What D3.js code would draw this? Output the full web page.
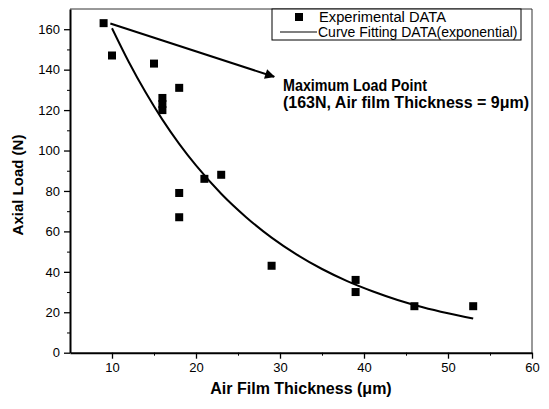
<!DOCTYPE html>
<html>
<head>
<meta charset="utf-8">
<script src="https://cdn.jsdelivr.net/npm/d3@7"></script>
<style>
  body { margin: 0; background: #fff; }
  svg { display: block; font-family: Arial, "Liberation Sans", sans-serif; }
</style>
</head>
<body>
<svg id="chart" width="549" height="409"></svg>
<script>
// experimental points
const thickness = [9, 10, 15, 16, 16, 16, 18, 18, 18, 21, 23, 29, 39, 39, 46, 53];
const load = [163, 147, 143, 126, 123, 120, 131, 79, 67, 86, 88, 43, 36, 30, 23, 23];

// fitted exponential curve, read at a few x positions
const fitX = [10, 12, 14, 16, 18, 20, 23, 26, 29, 32, 35, 38, 41, 44, 47, 50, 53];
const fitY = [160.5, 143.8, 128.8, 115.3, 103.3, 92.6, 78.6, 66.9, 56.9, 48.5, 41.4, 35.4, 30.4, 26.1, 22.5, 19.5, 16.9];

const xTicks = [10, 20, 30, 40, 50, 60];
const yTicks = [0, 20, 40, 60, 80, 100, 120, 140, 160];

const svg = d3.select("#chart");
const plotL = 70, plotR = 532, plotT = 9, plotB = 352.7;

const x = d3.scaleLinear().domain([5, 60]).range([plotL, plotR]);
const y = d3.scaleLinear().domain([0, 170]).range([plotB, plotT]);

// frame (top and right)
svg.append("path")
  .attr("d", `M${plotL},${plotT}H${plotR}V${plotB}`)
  .attr("fill", "none").attr("stroke", "#333").attr("stroke-width", 1);

// minor ticks
svg.append("g").attr("transform", `translate(0,${plotB})`)
  .call(d3.axisBottom(x).tickValues(d3.range(15, 60, 10)).tickSize(3).tickFormat(""))
  .call(g => g.select(".domain").remove());
svg.append("g").attr("transform", `translate(${plotL},0)`)
  .call(d3.axisLeft(y).tickValues(d3.range(10, 170, 20)).tickSize(3).tickFormat(""))
  .call(g => g.select(".domain").remove());

// major axes
const xAxis = svg.append("g").attr("transform", `translate(0,${plotB})`)
  .call(d3.axisBottom(x).tickValues(xTicks).tickSize(6).tickPadding(4).tickSizeOuter(0));
const yAxis = svg.append("g").attr("transform", `translate(${plotL},0)`)
  .call(d3.axisLeft(y).tickValues(yTicks).tickSize(6).tickPadding(4).tickSizeOuter(0));

[xAxis, yAxis].forEach(a => {
  a.select(".domain").attr("stroke-width", 2);
  a.selectAll(".tick line").attr("stroke-width", 1.3);
  a.selectAll("text").attr("font-size", 13).attr("font-family", "Arial, 'Liberation Sans', sans-serif").attr("fill", "#000");
});

// axis titles
svg.append("text")
  .attr("x", 301).attr("y", 394)
  .attr("text-anchor", "middle")
  .attr("font-size", 16).attr("font-weight", "bold")
  .text("Air Film Thickness (\u03BCm)");

svg.append("text")
  .attr("transform", "translate(23,185) rotate(-90)")
  .attr("text-anchor", "middle")
  .attr("font-size", 15).attr("font-weight", "bold")
  .text("Axial Load (N)");

// fitted curve
const line = d3.line().x(d => x(d[0])).y(d => y(d[1])).curve(d3.curveMonotoneX);
svg.append("path")
  .datum(fitX.map((v, i) => [v, fitY[i]]))
  .attr("d", line)
  .attr("fill", "none").attr("stroke", "#000").attr("stroke-width", 2);

// points
svg.append("g").selectAll("rect")
  .data(thickness.map((v, i) => [v, load[i]]))
  .join("rect")
  .attr("x", d => x(d[0]) - 4).attr("y", d => y(d[1]) - 4)
  .attr("width", 8).attr("height", 8)
  .attr("fill", "#000");

// arrow to the annotation
svg.append("defs").append("marker")
  .attr("id", "head").attr("viewBox", "0 0 10 10")
  .attr("refX", 9).attr("refY", 5)
  .attr("markerWidth", 8).attr("markerHeight", 5)
  .attr("markerUnits", "strokeWidth")
  .attr("orient", "auto")
  .append("path").attr("d", "M0,0L10,5L0,10z").attr("fill", "#000");

svg.append("line")
  .attr("x1", x(9.8)).attr("y1", y(162.8))
  .attr("x2", x(29.3)).attr("y2", y(136.5))
  .attr("stroke", "#000").attr("stroke-width", 2)
  .attr("marker-end", "url(#head)");

svg.append("text")
  .attr("x", 283).attr("y", 91)
  .attr("font-size", 16).attr("font-weight", "bold")
  .attr("textLength", 144).attr("lengthAdjust", "spacingAndGlyphs")
  .text("Maximum Load Point");
svg.append("text")
  .attr("x", 283).attr("y", 108)
  .attr("font-size", 16).attr("font-weight", "bold")
  .attr("textLength", 246).attr("lengthAdjust", "spacingAndGlyphs")
  .text("(163N, Air film Thickness = 9\u03BCm)");

// legend
const lg = svg.append("g");
lg.append("rect")
  .attr("x", 272).attr("y", plotT).attr("width", 249).attr("height", 31)
  .attr("fill", "#fff").attr("stroke", "#000").attr("stroke-width", 1);
lg.append("rect").attr("x", 295).attr("y", 13).attr("width", 8).attr("height", 8).attr("fill", "#000");
lg.append("line").attr("x1", 280).attr("x2", 317).attr("y1", 32).attr("y2", 32)
  .attr("stroke", "#000").attr("stroke-width", 1.2);
lg.append("text").attr("x", 319).attr("y", 22).attr("font-size", 14)
  .attr("textLength", 127).attr("lengthAdjust", "spacingAndGlyphs").text("Experimental DATA");
lg.append("text").attr("x", 318).attr("y", 37).attr("font-size", 14).text("Curve Fitting DATA(exponential)");
</script>
</body>
</html>
